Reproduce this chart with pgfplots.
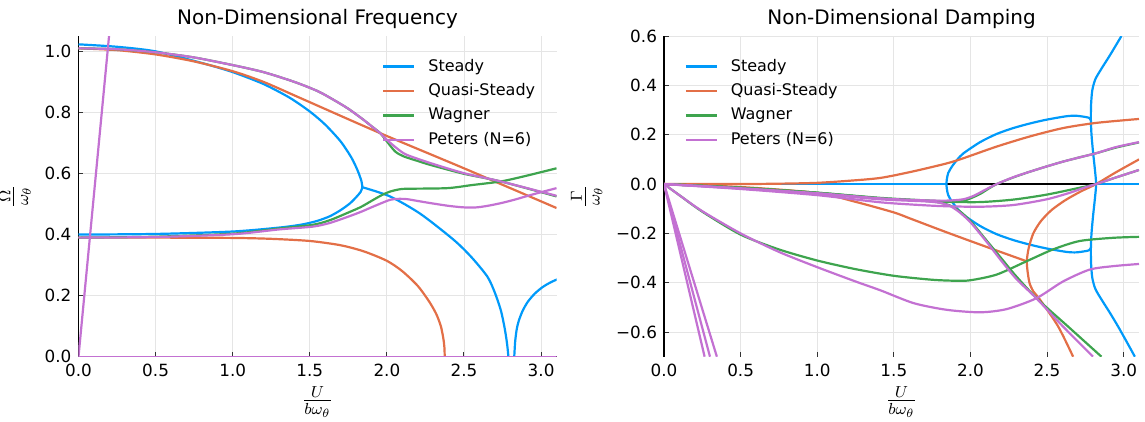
\documentclass[border=0pt]{standalone}
\usepackage{fontspec}
\setmainfont{DejaVu Sans}
\usepackage{pgfplots}
\pgfplotsset{compat=1.18}

\definecolor{jlblue}{RGB}{0,154,250}
\definecolor{jlorange}{RGB}{227,111,71}
\definecolor{jlgreen}{RGB}{62,164,78}
\definecolor{jlpurple}{RGB}{195,113,210}

\pgfplotsset{
  jlaxis/.style={
    scale only axis, height=160.3pt,
    xmin=0, xmax=3.1, xtick={0,0.5,1,1.5,2,2.5,3},
    grid=major, grid style={black!10, line width=0.45pt},
    axis x line*=bottom, axis y line*=left,
    axis line style={-, black, line width=0.6pt},
    tick align=inside, major tick length=2.5pt,
    tick style={black!80, line width=0.5pt},
    ticklabel style={font=\fontsize{8.4}{10}\selectfont},
    xticklabel style={/pgf/number format/.cd, fixed, fixed zerofill, precision=1, assume math mode=true},
    every axis title shift=0pt,
    title style={font=\fontsize{10}{12}\selectfont},
    label style={font=\fontsize{11.5}{13}\selectfont},
    xlabel style={yshift=2pt},
    legend style={draw=none, fill=none, font=\fontsize{8}{10}\selectfont, row sep=1.75pt,
      column sep=5pt, nodes={inner sep=1.5pt}},
    legend cell align=left,
    legend image code/.code={\draw[#1] (0pt,0pt) -- (15.5pt,0pt);},
    every axis plot/.append style={line width=1.1pt, smooth, tension=0.45},
  }
}

\begin{document}
\begin{tikzpicture}
\useasboundingbox (-39.25pt,-32.65pt) rectangle (533.25pt,178.35pt);

% ---------------- frequency ----------------
\begin{axis}[jlaxis, width=239pt,
  ymin=0, ymax=1.05, ytick={0,0.2,0.4,0.6,0.8,1.0},
  yticklabel style={/pgf/number format/.cd, fixed, fixed zerofill, precision=1, assume math mode=true},
  title={Non-Dimensional Frequency},
  xlabel={$\frac{U}{b\omega_\theta}$}, ylabel={$\frac{\Omega}{\omega_\theta}$},
  legend style={at={(0.975,0.952)}, anchor=north east},
]
% Steady
\addplot[jlblue] coordinates {(0,1.023) (0.25,1.015) (0.5,1.0) (0.8,0.962) (1.0,0.932) (1.2,0.893)
  (1.37,0.848) (1.5,0.803) (1.6,0.76) (1.7,0.705) (1.77,0.652) (1.81,0.61) (1.835,0.575) (1.841,0.555)};
\addlegendentry{Steady}
\addplot[jlblue, forget plot] coordinates {(0,0.4) (0.5,0.402) (1.0,0.41) (1.304,0.423) (1.45,0.433)
  (1.55,0.445) (1.63,0.46) (1.7,0.48) (1.76,0.502) (1.8,0.522) (1.83,0.54) (1.841,0.555)};
\addplot[jlblue, forget plot] coordinates {(1.841,0.555) (2.02,0.525) (2.217,0.468) (2.435,0.382)
  (2.55,0.325) (2.652,0.262) (2.70,0.21) (2.74,0.15) (2.765,0.09) (2.78,0.04) (2.788,0.0)};
\addplot[jlblue, forget plot] coordinates {(2.826,0.0) (2.832,0.05) (2.842,0.09) (2.855,0.117)
  (2.88,0.15) (2.914,0.18) (2.96,0.207) (3.01,0.228) (3.06,0.243) (3.103,0.253)};
% Quasi-Steady
\addplot[jlorange] coordinates {(0,1.010) (0.25,1.004) (0.5,0.99) (0.75,0.967) (1.0,0.935)
  (1.2,0.9) (1.435,0.848) (1.957,0.732) (2.5,0.617) (3.1,0.487)};
\addlegendentry{Quasi-Steady}
\addplot[jlorange, forget plot] coordinates {(0,0.390) (0.5,0.390) (1.0,0.389) (1.25,0.386)
  (1.5,0.379) (1.7,0.365) (1.85,0.345) (2.0,0.314) (2.1,0.28) (2.2,0.232) (2.275,0.18) (2.32,0.14)
  (2.35,0.1) (2.366,0.06) (2.373,0.03) (2.375,0.0)};
% Wagner
\addplot[jlgreen] coordinates {(0,1.010) (0.25,1.007) (0.5,0.997) (0.75,0.98) (1.0,0.955)
  (1.2,0.932) (1.4,0.9) (1.55,0.87) (1.652,0.842) (1.75,0.812) (1.848,0.776) (1.9,0.755) (1.957,0.732)
  (2.0,0.705) (2.054,0.672) (2.109,0.656) (2.2,0.641) (2.283,0.628) (2.5,0.599) (2.739,0.574) (3.1,0.525)};
\addlegendentry{Wagner}
\addplot[jlgreen, forget plot] coordinates {(0,0.390) (0.5,0.393) (1.0,0.403) (1.304,0.42)
  (1.52,0.432) (1.63,0.447) (1.74,0.47) (1.83,0.49) (1.913,0.514) (1.97,0.53) (2.022,0.541)
  (2.08,0.548) (2.13,0.55) (2.391,0.552) (2.55,0.562) (2.739,0.574) (2.9,0.592) (3.1,0.617)};
% Peters (N=6)
\addplot[jlpurple] coordinates {(0,1.010) (0.25,1.007) (0.5,0.997) (0.75,0.98) (1.0,0.955)
  (1.2,0.932) (1.4,0.9) (1.55,0.87) (1.652,0.842) (1.75,0.812) (1.848,0.776) (1.9,0.755) (1.957,0.732)
  (2.0,0.71) (2.076,0.678) (2.13,0.661) (2.283,0.634) (2.5,0.601) (2.739,0.574) (3.1,0.527)};
\addlegendentry{Peters (N=6)}
\addplot[jlpurple, forget plot] coordinates {(0,0.390) (0.5,0.392) (1.0,0.401) (1.304,0.417)
  (1.52,0.426) (1.63,0.438) (1.74,0.457) (1.83,0.474) (1.913,0.492) (2.022,0.514) (2.08,0.517)
  (2.13,0.516) (2.2,0.51) (2.283,0.503) (2.4,0.494) (2.5,0.489) (2.58,0.489) (2.652,0.494)
  (2.74,0.503) (2.826,0.514) (2.95,0.532) (3.1,0.552)};
\addplot[jlpurple, forget plot] coordinates {(0,0) (0.21,1.113)};
\addplot[jlpurple, forget plot] coordinates {(0,0) (3.1,0)};
\end{axis}

% ---------------- damping ----------------
\begin{axis}[jlaxis, width=237.5pt, at={(292.75pt,0pt)},
  ymin=-0.7, ymax=0.6, ytick={-0.6,-0.4,-0.2,0,0.2,0.4,0.6},
  yticklabels={−0.6,−0.4,−0.2,0.0,0.2,0.4,0.6},
  x axis line style={draw=none},
  title={Non-Dimensional Damping},
  xlabel={$\frac{U}{b\omega_\theta}$}, ylabel={$\frac{\Gamma}{\omega_\theta}$},
  legend style={at={(0.03,0.952)}, anchor=north west},
]
\addplot[black, line width=0.7pt, forget plot] coordinates {(0,0) (3.1,0)};
% Steady
\addplot[jlblue] coordinates {(0,0) (1.843,0)};
\addlegendentry{Steady}
\addplot[jlblue, forget plot] coordinates {(1.843,0) (1.846,0.02) (1.855,0.045) (1.879,0.071)
  (1.915,0.1) (1.955,0.125) (2.063,0.17) (2.17,0.203) (2.279,0.227) (2.39,0.246) (2.496,0.261)
  (2.626,0.275) (2.69,0.277) (2.75,0.272) (2.775,0.268) (2.786,0.258)};
\addplot[jlblue, forget plot] coordinates {(1.843,0) (1.846,-0.02) (1.855,-0.045) (1.879,-0.071)
  (1.915,-0.1) (1.955,-0.125) (2.063,-0.17) (2.17,-0.203) (2.279,-0.227) (2.39,-0.246) (2.496,-0.261)
  (2.626,-0.275) (2.69,-0.277) (2.75,-0.272) (2.775,-0.268) (2.786,-0.258)};
\addplot[jlblue, forget plot] coordinates {(2.985,0.6) (2.963,0.577) (2.91,0.522) (2.855,0.468)
  (2.815,0.425) (2.795,0.38) (2.787,0.32) (2.786,0.258) (2.79,0.2) (2.8,0.13) (2.812,0.06)
  (2.82,0.0) (2.812,-0.06) (2.8,-0.13) (2.79,-0.2) (2.786,-0.258) (2.787,-0.32) (2.795,-0.38)
  (2.815,-0.425) (2.855,-0.468) (2.91,-0.522) (2.963,-0.577) (3.02,-0.64) (3.073,-0.7)};
\addplot[jlblue, forget plot] coordinates {(2.82,0) (3.1,0)};
% Quasi-Steady
\addplot[jlorange] coordinates {(0,0) (0.5,0.0) (0.8,0.002) (1.0,0.005) (1.2,0.013) (1.413,0.025)
  (1.63,0.052) (1.846,0.084) (1.955,0.105) (2.171,0.152) (2.387,0.193) (2.604,0.227) (2.82,0.248) (3.1,0.264)};
\addlegendentry{Quasi-Steady}
\addplot[jlorange, forget plot] coordinates {(0,0) (0.5,-0.012) (1.0,-0.036) (1.25,-0.072)
  (1.5,-0.115) (1.608,-0.14) (1.846,-0.196) (2.106,-0.255) (2.366,-0.313)};
\addplot[jlorange, forget plot] coordinates {(3.1,0.1) (2.95,0.048) (2.82,0.0) (2.72,-0.03)
  (2.62,-0.065) (2.53,-0.105) (2.46,-0.15) (2.41,-0.2) (2.38,-0.26) (2.368,-0.31) (2.372,-0.35)
  (2.385,-0.4) (2.41,-0.435) (2.453,-0.468) (2.572,-0.577) (2.67,-0.7)};
% Wagner
\addplot[jlgreen] coordinates {(0,0) (0.5,-0.015) (1.0,-0.036) (1.413,-0.058) (1.7,-0.068)
  (1.846,-0.072) (2.063,-0.073) (2.279,-0.063) (2.496,-0.043) (2.712,-0.015) (2.82,0.0)
  (2.95,0.027) (3.1,0.057)};
\addlegendentry{Wagner}
\addplot[jlgreen, forget plot] coordinates {(0,0) (0.5,-0.015) (1.0,-0.035) (1.413,-0.056)
  (1.7,-0.066) (1.85,-0.07) (1.95,-0.068) (2.0,-0.058) (2.063,-0.04) (2.12,-0.018) (2.171,0.0)
  (2.28,0.027) (2.387,0.05) (2.5,0.072) (2.604,0.091) (2.71,0.108) (2.82,0.125) (2.95,0.148) (3.1,0.169)};
\addplot[jlgreen, forget plot] coordinates {(0,0) (0.1,-0.045) (0.25,-0.112) (0.5,-0.205)
  (0.75,-0.265) (1.0,-0.31) (1.25,-0.345) (1.5,-0.372) (1.75,-0.388) (1.9,-0.392) (2.0,-0.39)
  (2.171,-0.367) (2.366,-0.313) (2.539,-0.265) (2.712,-0.231) (2.929,-0.218) (3.1,-0.214)};
\addplot[jlgreen, forget plot] coordinates {(0,0) (0.5,-0.015) (1.0,-0.035) (1.413,-0.058)
  (1.7,-0.068) (1.8,-0.075) (1.87,-0.088) (1.93,-0.11) (2.0,-0.15) (2.1,-0.225) (2.2,-0.3)
  (2.3,-0.375) (2.44,-0.468) (2.65,-0.585) (2.855,-0.7)};
% Peters (N=6)
\addplot[jlpurple] coordinates {(0,0) (0.5,-0.02) (1.0,-0.045) (1.413,-0.074) (1.7,-0.086)
  (1.846,-0.09) (2.063,-0.092) (2.279,-0.085) (2.496,-0.062) (2.65,-0.035) (2.75,-0.013)
  (2.82,0.0) (2.95,0.027) (3.1,0.057)};
\addlegendentry{Peters (N=6)}
\addplot[jlpurple, forget plot] coordinates {(0,0) (0.5,-0.017) (1.0,-0.037) (1.413,-0.058)
  (1.7,-0.066) (1.85,-0.067) (1.95,-0.062) (2.02,-0.048) (2.1,-0.022) (2.171,0.0) (2.28,0.028)
  (2.387,0.05) (2.5,0.072) (2.604,0.091) (2.71,0.108) (2.82,0.125) (2.95,0.15) (3.1,0.17)};
\addplot[jlpurple, forget plot] coordinates {(0,0) (0.1,-0.045) (0.25,-0.11) (0.5,-0.2)
  (0.75,-0.275) (1.0,-0.337) (1.25,-0.395) (1.413,-0.431) (1.63,-0.483) (1.846,-0.51)
  (2.063,-0.52) (2.236,-0.507) (2.43,-0.463) (2.604,-0.395) (2.777,-0.347) (2.929,-0.333) (3.1,-0.324)};
\addplot[jlpurple, forget plot] coordinates {(0,0) (0.5,-0.018) (1.0,-0.04) (1.413,-0.062)
  (1.7,-0.07) (1.8,-0.076) (1.87,-0.09) (1.93,-0.115) (2.0,-0.155) (2.1,-0.23) (2.2,-0.31)
  (2.3,-0.385) (2.43,-0.463) (2.6,-0.575) (2.8,-0.7)};
\addplot[jlpurple, forget plot] coordinates {(0,0) (0.265,-0.7)};
\addplot[jlpurple, forget plot] coordinates {(0,0) (0.30,-0.7)};
\addplot[jlpurple, forget plot] coordinates {(0,0) (0.345,-0.7)};
\end{axis}
\end{tikzpicture}
\end{document}
